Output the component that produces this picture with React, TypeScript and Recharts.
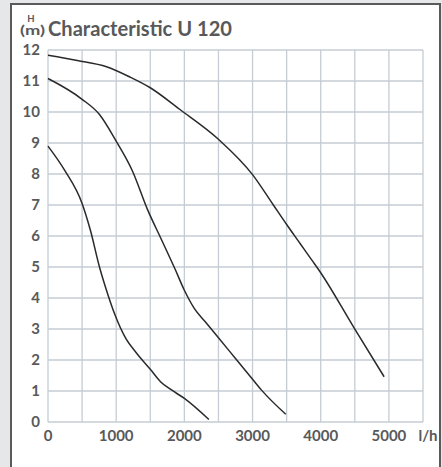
import React from "react";
import { LineChart, Line, XAxis, YAxis, CartesianGrid } from "recharts";

// flow in l/h, head in m
const curveSmall = [
  { q: 0, h: 8.9 },
  { q: 250, h: 8.1 },
  { q: 500, h: 7.05 },
  { q: 620, h: 6.2 },
  { q: 755, h: 5.0 },
  { q: 880, h: 4.1 },
  { q: 975, h: 3.5 },
  { q: 1145, h: 2.68 },
  { q: 1300, h: 2.22 },
  { q: 1500, h: 1.7 },
  { q: 1650, h: 1.3 },
  { q: 1800, h: 1.05 },
  { q: 2000, h: 0.76 },
  { q: 2360, h: 0.08 },
];

const curveMid = [
  { q: 0, h: 11.08 },
  { q: 500, h: 10.41 },
  { q: 755, h: 9.92 },
  { q: 1000, h: 9.06 },
  { q: 1240, h: 8.09 },
  { q: 1460, h: 6.85 },
  { q: 1665, h: 5.88 },
  { q: 1860, h: 4.95 },
  { q: 2000, h: 4.25 },
  { q: 2150, h: 3.65 },
  { q: 2300, h: 3.25 },
  { q: 2500, h: 2.72 },
  { q: 2768, h: 2.0 },
  { q: 3000, h: 1.38 },
  { q: 3135, h: 1.02 },
  { q: 3487, h: 0.25 },
];

const curveBig = [
  { q: 0, h: 11.83 },
  { q: 430, h: 11.66 },
  { q: 858, h: 11.46 },
  { q: 1200, h: 11.13 },
  { q: 1494, h: 10.79 },
  { q: 1935, h: 10.08 },
  { q: 2500, h: 9.12 },
  { q: 3000, h: 7.98 },
  { q: 3305, h: 7.0 },
  { q: 3500, h: 6.37 },
  { q: 3700, h: 5.75 },
  { q: 3870, h: 5.22 },
  { q: 3980, h: 4.88 },
  { q: 4480, h: 3.07 },
  { q: 4930, h: 1.46 },
];

const xTicks = [0, 500, 1000, 1500, 2000, 2500, 3000, 3500, 4000, 4500, 5000, 5500];
const yTicks = [0, 1, 2, 3, 4, 5, 6, 7, 8, 9, 10, 11, 12];
const xUnit = "l/h";
const title = "Characteristic U 120";

const textColor = "#58595b";
const gridColor = "#c5ccd4";
const lineColor = "#2a2a2a";
const font = "Lato, 'Open Sans', sans-serif";

const XTick = (props: any) => {
  const { x, y, payload } = props;
  const v = payload.value;
  let label = "";
  let dx = 0;
  if (v === 5500) {
    label = xUnit;
    dx = 5;
  } else if (v % 1000 === 0) {
    label = String(v);
  }
  if (!label) return null;
  return (
    <text
      x={x + dx}
      y={y}
      dy="0.71em"
      textAnchor="middle"
      fill={textColor}
      fontFamily={font}
      fontWeight={700}
      fontSize={15}
    >
      {label}
    </text>
  );
};

const App = () => {
  return (
    <div
      style={{
        position: "fixed",
        left: 0,
        top: 0,
        width: 442,
        height: 467,
        overflow: "hidden",
        background: "#e6e7e9",
      }}
    >
      <div
        style={{
          position: "absolute",
          left: 10,
          top: 3,
          width: 427,
          height: 480,
          border: "2px solid #5a5a5a",
          borderBottom: "none",
          background: "#fff",
        }}
      />
      <svg
        width={442}
        height={467}
        style={{ position: "absolute", left: 0, top: 0 }}
      >
        <text
          x={31}
          y={22}
          textAnchor="middle"
          fill={textColor}
          fontFamily={font}
          fontWeight={700}
          fontSize={9.5}
        >
          H
        </text>
        <text
          x={32.5}
          y={34.5}
          textAnchor="middle"
          fill={textColor}
          fontFamily={font}
          fontWeight={700}
          fontSize={12.5}
          textLength={25}
          lengthAdjust="spacingAndGlyphs"
        >
          (m)
        </text>
        <text
          x={48}
          y={36}
          fill={textColor}
          fontFamily={font}
          fontWeight={700}
          fontSize={20}
          textLength={184}
          lengthAdjust="spacingAndGlyphs"
        >
          {title}
        </text>
      </svg>
      <div style={{ position: "absolute", left: 0, top: 0 }}>
        <LineChart
          width={442}
          height={467}
          margin={{ top: 50, right: 19, left: 8, bottom: 15 }}
        >
          <CartesianGrid stroke={gridColor} strokeWidth={1.3} />
          <XAxis
            type="number"
            dataKey="q"
            domain={[0, 5500]}
            ticks={xTicks}
            interval={0}
            axisLine={false}
            tickLine={false}
            height={30}
            tick={<XTick />}
          />
          <YAxis
            type="number"
            domain={[0, 12]}
            ticks={yTicks}
            interval={0}
            axisLine={false}
            tickLine={false}
            width={40}
            tick={{
              fill: textColor,
              fontFamily: font,
              fontWeight: 700,
              fontSize: 15,
            }}
          />
          <Line
            data={curveSmall}
            dataKey="h"
            type="monotone"
            stroke={lineColor}
            strokeWidth={1.5}
            dot={false}
            isAnimationActive={false}
          />
          <Line
            data={curveMid}
            dataKey="h"
            type="monotone"
            stroke={lineColor}
            strokeWidth={1.5}
            dot={false}
            isAnimationActive={false}
          />
          <Line
            data={curveBig}
            dataKey="h"
            type="monotone"
            stroke={lineColor}
            strokeWidth={1.5}
            dot={false}
            isAnimationActive={false}
          />
        </LineChart>
      </div>
    </div>
  );
};

export default App;
